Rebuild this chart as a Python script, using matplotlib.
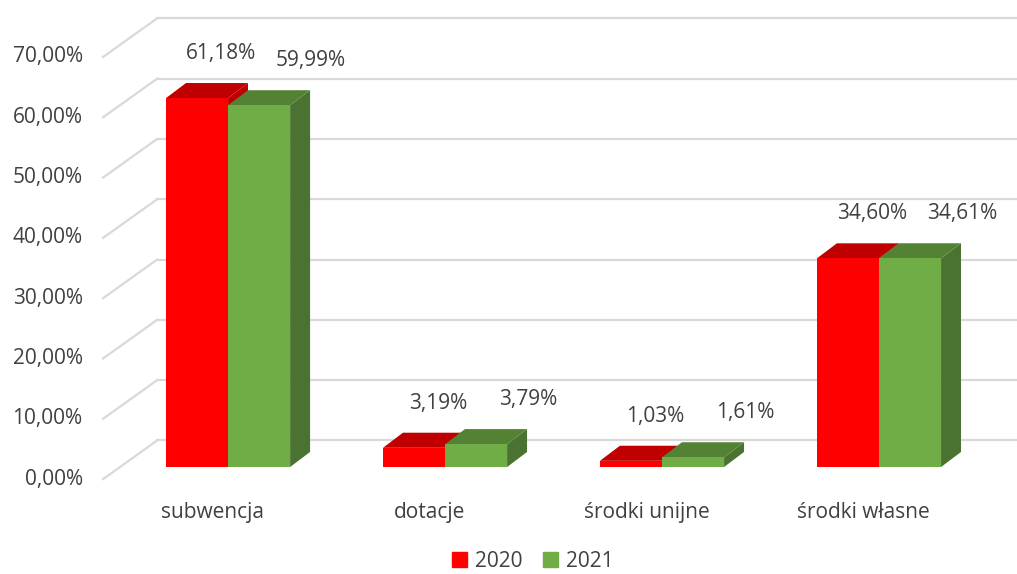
import matplotlib.pyplot as plt
from matplotlib.patches import Patch

categories = ['subwencja', 'dotacje', 'środki unijne', 'środki własne']
years = ['2020', '2021']
values_2020 = [61.18, 3.19, 1.03, 34.60]
values_2021 = [59.99, 3.79, 1.61, 34.61]
ticks = [0, 10, 20, 30, 40, 50, 60, 70]

plt.rcParams['font.family'] = ['Open Sans', 'DejaVu Sans']
text_color = '#404040'
grid_color = '#d9d9d9'

fig = plt.figure(figsize=(10.17, 5.74), dpi=100)
ax = fig.add_axes([0, 0, 1, 1])
ax.set_xlim(-1.051, 3.636)
ax.set_ylim(-17.74, 77.45)
ax.axis('off')

# fake 3D geometry (data units)
bw = 0.286          # bar width
ddx, ddy = 0.092, 2.5   # bar depth offset
wall_x0, wall_x1 = -0.576, -0.327
front_off, back_off = -2.0, 4.4

# back wall gridlines + floor/wall diagonals
for t in ticks:
    ax.plot([wall_x1, 3.7], [t + back_off, t + back_off], color=grid_color, lw=1.6, zorder=1)
    ax.plot([wall_x0, wall_x1], [t + front_off, t + back_off], color=grid_color, lw=1.6, zorder=1)
    ax.text(-0.67, t + front_off, f'{t},00%', ha='right', va='center',
            fontsize=15, color=text_color)

series = [
    (values_2020, -bw, '#ff0000', '#c00000', '#c00000', 0.11),
    (values_2021, 0.0, '#70ad47', '#548235', '#4a7230', 0.24),
]
xs = range(len(categories))
for k, (vals, shift, c_front, c_top, c_side, lab_dx) in enumerate(series):
    z = 3 + k * 3
    lefts = [x + shift for x in xs]
    ax.bar(lefts, vals, width=bw, align='edge', color=c_front, zorder=z + 2)
    for x0, v in zip(lefts, vals):
        ax.fill([x0, x0 + bw, x0 + bw + ddx, x0 + ddx], [v, v, v + ddy, v + ddy],
                color=c_top, lw=0, zorder=z + 1)
        ax.fill([x0 + bw, x0 + bw + ddx, x0 + bw + ddx, x0 + bw], [0, ddy, v + ddy, v],
                color=c_side, lw=0, zorder=z)
        ax.text(x0 + bw / 2 + lab_dx, v + 7.4, f'{v:.2f}%'.replace('.', ','),
                ha='center', va='center', fontsize=15, color=text_color, zorder=10)

for x, name in zip(xs, categories):
    ax.text(x - 0.07, -7.6, name, ha='center', va='center', fontsize=15, color=text_color)

handles = [Patch(color='#ff0000', label=years[0]), Patch(color='#70ad47', label=years[1])]
fig.legend(handles=handles, loc='center', bbox_to_anchor=(0.524, 0.022), ncol=2, frameon=False,
           fontsize=15, handlelength=0.7, handleheight=0.7, handletextpad=0.4,
           columnspacing=1.0, labelcolor=text_color)

fig.savefig('out.png')
